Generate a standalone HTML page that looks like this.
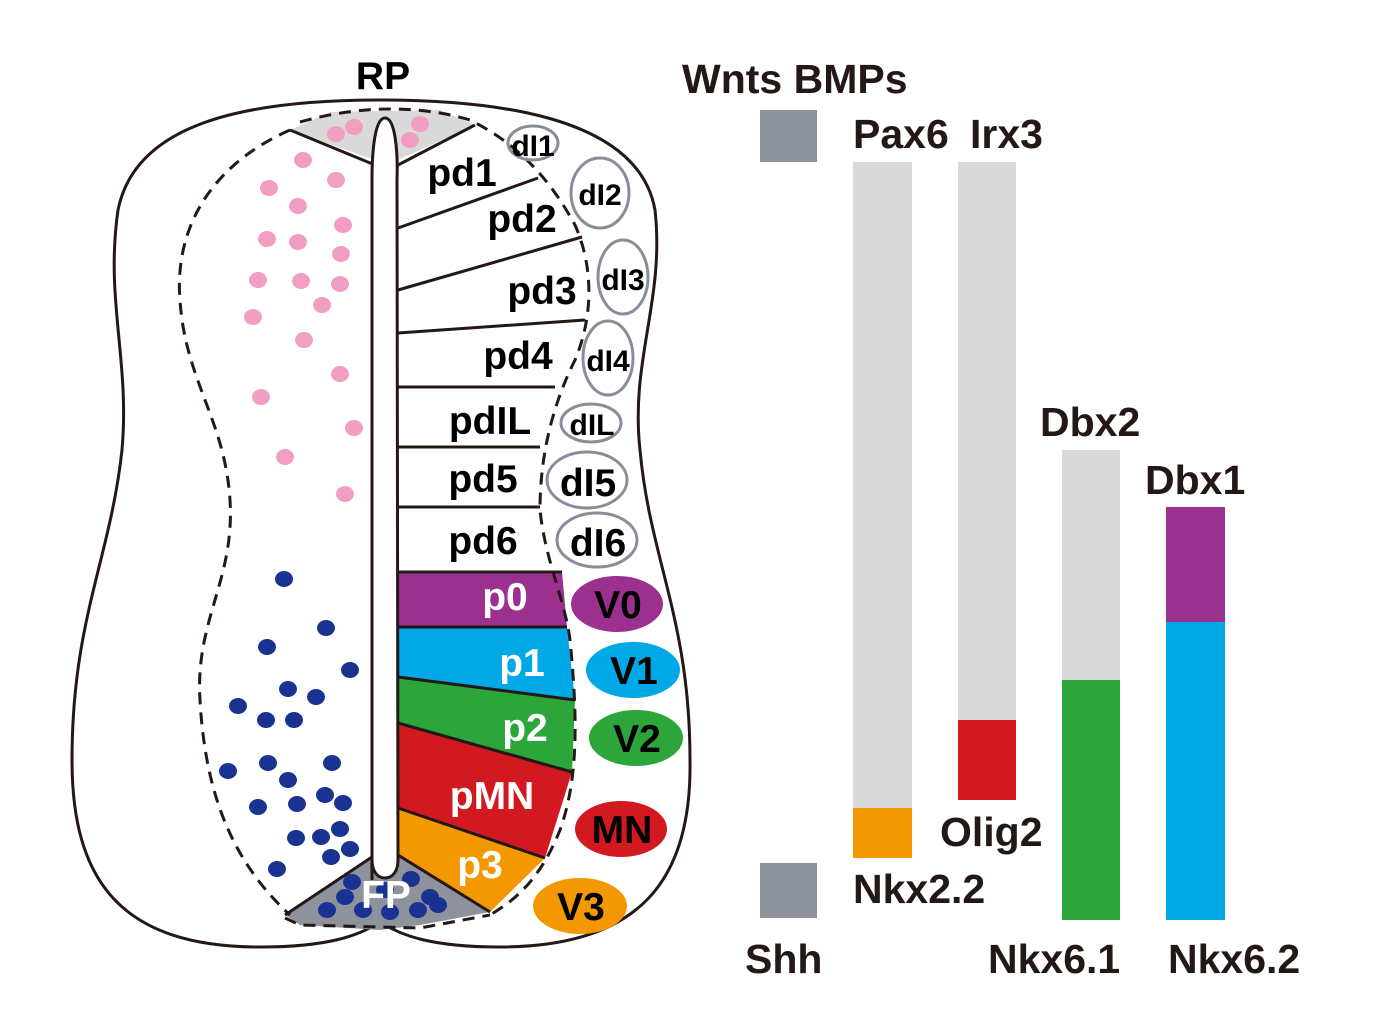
<!DOCTYPE html>
<html><head><style>body{margin:0;background:#fff}svg{display:block}text{font-family:"Liberation Sans",Arial,sans-serif;font-weight:bold}</style></head><body>
<svg width="1379" height="1024" viewBox="0 0 1379 1024">
<path d="M380,100 C520,100 640,125 655,210 C665,300 630,360 640,450 C650,560 690,620 690,760 C692,880 640,947 500,947 C430,947 400,935 380,922 C360,935 330,947 260,947 C120,947 72,880 72,760 C72,620 110,560 122,450 C130,360 105,300 118,210 C135,125 240,100 380,100 Z" fill="#fff" stroke="#231815" stroke-width="3"/>
<path d="M290,130 L330,112 L440,110 L475,125 L398,160 L375,160 Z" fill="#d9d9d9"/>
<path d="M290,130 L375,165 M398,165 L475,125" stroke="#231815" stroke-width="3" fill="none"/>
<path d="M398,572 L562,572 L567,627 L398,627Z" fill="#9b308e"/>
<path d="M398,627 L567,627 L575,700 L398,677Z" fill="#00a8e6"/>
<path d="M398,677 L575,700 L572,772 L398,723Z" fill="#2ca53a"/>
<path d="M398,723 L572,772 L545,858 L398,808Z" fill="#d31920"/>
<path d="M398,808 L545,858 L490,912 L398,855Z" fill="#f39800"/>
<path d="M285,915 L375,855 L398,855 L490,912 L420,925 L380,930 L300,925Z" fill="#8e929c"/>
<g stroke="#231815" stroke-width="3" fill="none">
<path d="M398,228 L538,178 M398,290 L582,237 M398,333 L585,320 M398,387 L555,387 M398,447 L540,447 M398,507 L540,507 M398,572 L562,572 M398,627 L567,627 M398,677 L575,700 M398,723 L572,772 M398,808 L545,858 M398,855 L490,912 M285,915 L375,855"/>
</g>
<g stroke="#231815" stroke-width="3" fill="none" stroke-dasharray="12,8">
<path d="M290,130 C200,170 175,240 180,300 C185,380 225,420 230,500 C235,580 195,620 200,700 C205,790 230,860 290,915"/>
<path d="M300,122 C360,105 420,105 470,120 C510,140 545,170 575,225 C595,270 592,320 575,360 C555,400 540,450 540,510 C545,560 565,600 570,640 C578,720 578,780 560,830 C540,880 515,900 490,915"/>
<path d="M285,918 L300,925 L420,928 L490,915"/>
</g>
<path d="M372,880 L372,180 C372,150 375,118 385,118 C395,118 398,150 397,180 L398,860 C398,872 392,878 385,878 C378,878 372,872 372,860 Z" fill="#fff" stroke="#231815" stroke-width="3"/>
<g fill="#f19ec2">
<ellipse cx="336" cy="134" rx="9" ry="8"/><ellipse cx="354" cy="127" rx="9" ry="8"/><ellipse cx="420" cy="124" rx="9" ry="8"/><ellipse cx="410" cy="140" rx="9" ry="8"/><ellipse cx="303" cy="160" rx="9" ry="8"/><ellipse cx="336" cy="180" rx="9" ry="8"/><ellipse cx="269" cy="188" rx="9" ry="8"/><ellipse cx="298" cy="206" rx="9" ry="8"/><ellipse cx="343" cy="225" rx="9" ry="8"/><ellipse cx="267" cy="239" rx="9" ry="8"/><ellipse cx="298" cy="242" rx="9" ry="8"/><ellipse cx="341" cy="254" rx="9" ry="8"/><ellipse cx="258" cy="280" rx="9" ry="8"/><ellipse cx="301" cy="281" rx="9" ry="8"/><ellipse cx="340" cy="284" rx="9" ry="8"/><ellipse cx="322" cy="305" rx="9" ry="8"/><ellipse cx="253" cy="317" rx="9" ry="8"/><ellipse cx="304" cy="340" rx="9" ry="8"/><ellipse cx="340" cy="374" rx="9" ry="8"/><ellipse cx="261" cy="397" rx="9" ry="8"/><ellipse cx="354" cy="428" rx="9" ry="8"/><ellipse cx="285" cy="457" rx="9" ry="8"/><ellipse cx="345" cy="494" rx="9" ry="8"/>
</g>
<g fill="#1a3291">
<ellipse cx="284" cy="579" rx="9" ry="8"/><ellipse cx="326" cy="628" rx="9" ry="8"/><ellipse cx="267" cy="647" rx="9" ry="8"/><ellipse cx="350" cy="670" rx="9" ry="8"/><ellipse cx="288" cy="689" rx="9" ry="8"/><ellipse cx="316" cy="697" rx="9" ry="8"/><ellipse cx="238" cy="706" rx="9" ry="8"/><ellipse cx="266" cy="720" rx="9" ry="8"/><ellipse cx="294" cy="720" rx="9" ry="8"/><ellipse cx="332" cy="763" rx="9" ry="8"/><ellipse cx="268" cy="763" rx="9" ry="8"/><ellipse cx="228" cy="771" rx="9" ry="8"/><ellipse cx="288" cy="780" rx="9" ry="8"/><ellipse cx="258" cy="807" rx="9" ry="8"/><ellipse cx="297" cy="804" rx="9" ry="8"/><ellipse cx="325" cy="795" rx="9" ry="8"/><ellipse cx="343" cy="803" rx="9" ry="8"/><ellipse cx="340" cy="829" rx="9" ry="8"/><ellipse cx="321" cy="837" rx="9" ry="8"/><ellipse cx="296" cy="838" rx="9" ry="8"/><ellipse cx="331" cy="857" rx="9" ry="8"/><ellipse cx="350" cy="849" rx="9" ry="8"/><ellipse cx="277" cy="869" rx="9" ry="8"/>
<ellipse cx="352" cy="882" rx="9" ry="8"/><ellipse cx="411" cy="879" rx="9" ry="8"/><ellipse cx="345" cy="897" rx="9" ry="8"/><ellipse cx="385" cy="890" rx="9" ry="8"/><ellipse cx="430" cy="897" rx="9" ry="8"/><ellipse cx="438" cy="905" rx="9" ry="8"/><ellipse cx="327" cy="910" rx="9" ry="8"/><ellipse cx="363" cy="910" rx="9" ry="8"/><ellipse cx="390" cy="912" rx="9" ry="8"/><ellipse cx="418" cy="910" rx="9" ry="8"/>
</g>
<g fill="none" stroke="#8a8d99" stroke-width="3">
<ellipse cx="533" cy="143" rx="25" ry="17"/><ellipse cx="600" cy="193" rx="29" ry="35"/><ellipse cx="623" cy="277" rx="25" ry="37"/><ellipse cx="608" cy="358" rx="25" ry="37"/><ellipse cx="591" cy="423" rx="30" ry="19"/><ellipse cx="587" cy="480" rx="40" ry="28"/><ellipse cx="597" cy="540" rx="40" ry="27"/>
</g>
<ellipse cx="617" cy="604" rx="46" ry="28" fill="#9b308e"/>
<ellipse cx="633" cy="670" rx="47" ry="28" fill="#00a8e6"/>
<ellipse cx="636" cy="738" rx="47" ry="28" fill="#2ca53a"/>
<ellipse cx="621" cy="829" rx="46" ry="28" fill="#d31920"/>
<ellipse cx="580" cy="906" rx="47" ry="28" fill="#f39800"/>
<g text-anchor="middle" font-size="39" fill="#000">
<text x="462" y="186">pd1</text><text x="522" y="232">pd2</text><text x="542" y="304">pd3</text><text x="518" y="369">pd4</text><text x="490" y="434">pdIL</text><text x="483" y="492">pd5</text><text x="483" y="554">pd6</text>
<text x="383" y="89">RP</text>
</g>
<g text-anchor="middle" font-size="30" fill="#000">
<text x="533" y="156">dI1</text><text x="600" y="205">dI2</text><text x="623" y="290">dI3</text><text x="608" y="371">dI4</text><text x="592" y="435">dIL</text><text x="588" y="496" font-size="39">dI5</text><text x="598" y="556" font-size="39">dI6</text>
</g>
<g text-anchor="middle" font-size="39" fill="#fff">
<text x="505" y="610">p0</text><text x="522" y="676">p1</text><text x="525" y="741">p2</text><text x="492" y="809">pMN</text><text x="480" y="878">p3</text><text x="386" y="908">FP</text>
</g>
<g text-anchor="middle" font-size="39" fill="#000">
<text x="618" y="618">V0</text><text x="634" y="684">V1</text><text x="637" y="752">V2</text><text x="622" y="843">MN</text><text x="581" y="920">V3</text>
</g>
<rect x="760" y="110" width="57" height="52" fill="#8e929c"/>
<rect x="760" y="863" width="57" height="55" fill="#8e929c"/>
<rect x="853" y="162" width="59" height="646" fill="#d9d9d9"/><rect x="853" y="808" width="59" height="50" fill="#f39800"/>
<rect x="958" y="162" width="58" height="558" fill="#d9d9d9"/><rect x="958" y="720" width="58" height="80" fill="#d31920"/>
<rect x="1062" y="450" width="58" height="230" fill="#d9d9d9"/><rect x="1062" y="680" width="58" height="240" fill="#2ca53a"/>
<rect x="1166" y="507" width="59" height="115" fill="#9b308e"/><rect x="1166" y="622" width="59" height="298" fill="#00a8e6"/>
<g font-size="41" fill="#231815">
<text x="682" y="93">Wnts BMPs</text>
<text x="853" y="148">Pax6</text><text x="970" y="148">Irx3</text>
<text x="1040" y="436">Dbx2</text><text x="1145" y="494">Dbx1</text>
<text x="940" y="846">Olig2</text><text x="853" y="903">Nkx2.2</text>
<text x="745" y="973">Shh</text><text x="988" y="973">Nkx6.1</text><text x="1168" y="973">Nkx6.2</text>
</g>
</svg>
</body></html>
